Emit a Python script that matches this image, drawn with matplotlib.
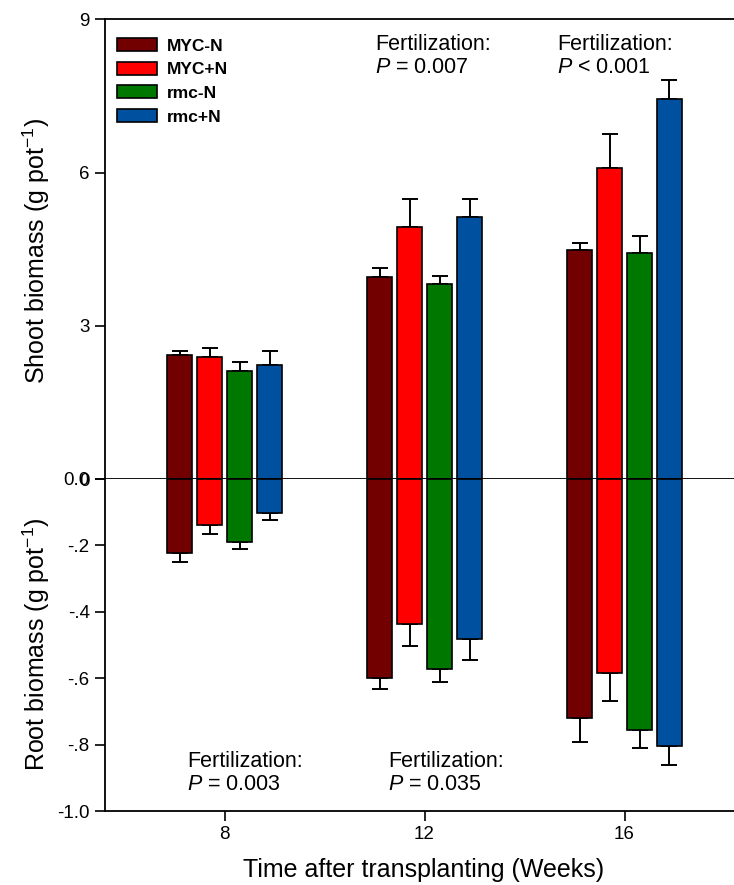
import numpy as np
import matplotlib.pyplot as plt

plt.rcParams['font.family'] = ['Liberation Sans', 'DejaVu Sans']
plt.rcParams['mathtext.fontset'] = 'custom'
plt.rcParams['mathtext.rm'] = 'Liberation Sans'
plt.rcParams['mathtext.it'] = 'Liberation Sans:italic'

weeks = [8, 12, 16]
treatments = ['MYC-N', 'MYC+N', 'rmc-N', 'rmc+N']
colors = ['#730000', '#FF0000', '#007800', '#0050A0']

# shoot biomass (g/pot), rows = treatments, columns = weeks
shoot = [[2.42, 3.96, 4.48],
         [2.38, 4.94, 6.08],
         [2.12, 3.82, 4.43],
         [2.23, 5.13, 7.44]]
shoot_se = [[0.08, 0.18, 0.15],
            [0.18, 0.54, 0.68],
            [0.17, 0.15, 0.33],
            [0.28, 0.35, 0.37]]

# root biomass (g/pot), plotted downwards
root = [[0.222, 0.598, 0.721],
        [0.139, 0.437, 0.584],
        [0.191, 0.572, 0.757],
        [0.103, 0.481, 0.804]]
root_se = [[0.027, 0.035, 0.071],
           [0.028, 0.067, 0.084],
           [0.020, 0.039, 0.052],
           [0.021, 0.065, 0.057]]

shoot_ticks = [0, 3, 6, 9]
root_ticks = [0.0, -0.2, -0.4, -0.6, -0.8, -1.0]
root_ticklabels = ['0.0', '-.2', '-.4', '-.6', '-.8', '-1.0']

shoot_p = ['$P$ = 0.007', '$P$ < 0.001']
root_p = ['$P$ = 0.003', '$P$ = 0.035']

W, H = 734, 885
fig = plt.figure(figsize=(W / 100, H / 100), dpi=100)


def box(x0, y0, x1, y1):
    # pixel box (top-left origin) -> figure fraction rect
    return [x0 / W, 1 - y1 / H, (x1 - x0) / W, (y1 - y0) / H]


ax_top = fig.add_axes(box(105, 19.3, 744, 479))
ax_bot = fig.add_axes(box(105, 479, 744, 811), sharex=ax_top)

offsets = [-0.9, -0.3, 0.3, 0.9]
width = 0.5
zeros = np.zeros(len(weeks))

for i, name in enumerate(treatments):
    x = np.array(weeks) + offsets[i]
    s = np.array(shoot[i])
    r = -np.array(root[i])
    ax_top.bar(x, s, width, color=colors[i], edgecolor='black',
               linewidth=1.2, label=name, zorder=2)
    ax_top.errorbar(x, s, yerr=[zeros, shoot_se[i]], fmt='none',
                    ecolor='black', elinewidth=1.4, capsize=5.5,
                    capthick=1.4, zorder=1)
    ax_bot.bar(x, r, width, color=colors[i], edgecolor='black',
               linewidth=1.2, zorder=2)
    ax_bot.errorbar(x, r, yerr=[root_se[i], zeros], fmt='none',
                    ecolor='black', elinewidth=1.4, capsize=5.5,
                    capthick=1.4, zorder=1)

ax_top.set_xlim(8 - 119.5 / 50, 16 + 119.5 / 50)
ax_top.set_ylim(0, 9)
ax_bot.set_ylim(-1.0, 0)

ax_top.set_yticks(shoot_ticks)
ax_bot.set_yticks(root_ticks)
ax_bot.set_yticklabels(root_ticklabels)
ax_bot.set_xticks(weeks)
ax_bot.set_xticklabels([str(w) for w in weeks])
ax_top.tick_params(axis='x', bottom=False, labelbottom=False)

for ax in (ax_top, ax_bot):
    ax.spines['right'].set_visible(False)
    for sp in ax.spines.values():
        sp.set_linewidth(1.3)
    ax.tick_params(direction='out', length=7, width=1.2, labelsize=13.5,
                   pad=4)
ax_bot.spines['top'].set_visible(False)

ax_top.legend(loc='upper left', bbox_to_anchor=(117 / W, 1 - 38 / H),
              bbox_transform=fig.transFigure, frameon=False,
              prop={'weight': 'bold', 'size': 12.5}, borderpad=0,
              borderaxespad=0, handlelength=2.3, handleheight=0.77,
              handletextpad=0.55, labelspacing=0.47)

# fertilization effect labels
for xp, p in zip([375, 557], shoot_p):
    fig.text(xp / W, 1 - 50 / H, 'Fertilization:', fontsize=15.5)
    fig.text(xp / W, 1 - 73 / H, p, fontsize=15.5)
for xp, p in zip([187, 388], root_p):
    fig.text(xp / W, 1 - 767 / H, 'Fertilization:', fontsize=15.5)
    fig.text(xp / W, 1 - 790 / H, p, fontsize=15.5)

fig.text(36 / W, 1 - 251 / H, 'Shoot biomass (g pot$^{-1}$)', rotation=90,
         ha='center', va='center', fontsize=18)
fig.text(36 / W, 1 - 644 / H, 'Root biomass (g pot$^{-1}$)', rotation=90,
         ha='center', va='center', fontsize=18)
fig.text(424 / W, 1 - 877 / H, 'Time after transplanting (Weeks)',
         ha='center', va='baseline', fontsize=18)

fig.savefig('out.png', dpi=100)
